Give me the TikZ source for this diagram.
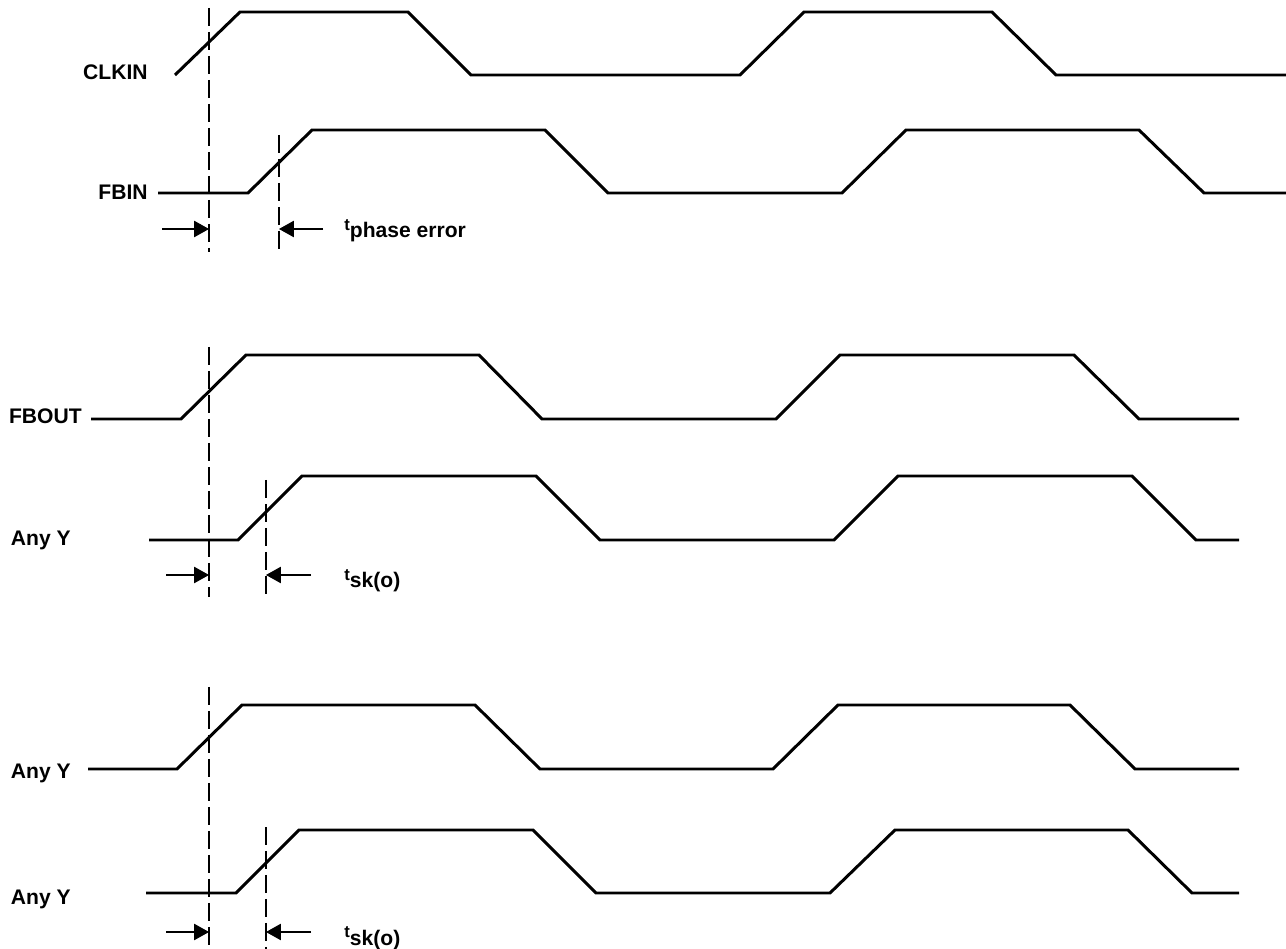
\documentclass[tikz,border=0pt]{standalone}
\usepackage{fontspec}
\setmainfont{Liberation Sans}
\usetikzlibrary{arrows.meta}

\begin{document}
\begin{tikzpicture}[
    x=0.02cm, y=-0.02cm,
    wave/.style={line width=1.7pt},
    guide/.style={line width=0.6pt, dash pattern=on 0.36cm off 0.12cm},
    dim/.style={line width=0.6pt, -{Triangle[length=0.3cm, width=0.33cm]}},
    sig/.style={anchor=base east, inner sep=0pt, font=\fontsize{12}{14}\selectfont\bfseries},
    tlabel/.style={anchor=base west, inner sep=0pt, font=\fontsize{12}{14}\selectfont\bfseries}
  ]
    \useasboundingbox (0,0) rectangle (1286,949);

    % Signal names
    \node[sig] at (148,80)  (clkin) {CLKIN};
    \node[sig] at (148,200) (fbin)  {FBIN};
    \node[sig] at (82,424)  (fbout) {FBOUT};
    \node[sig] at (71,546)  (anyya) {Any Y};
    \node[sig] at (71,779)  (anyyb) {Any Y};
    \node[sig] at (71,904)  (anyyc) {Any Y};

    % Waveforms
    \draw[wave] (175,75) -- (240,12) -- (408,12) -- (471,75) -- (740,75)
      -- (804,12) -- (992,12) -- (1056,75) -- (1286,75);
    \draw[wave] (158,193) -- (248,193) -- (312,130) -- (545,130) -- (608,193)
      -- (842,193) -- (906,130) -- (1139,130) -- (1204,193) -- (1286,193);
    \draw[wave] (91,419) -- (181,419) -- (246,355) -- (479,355) -- (542,419)
      -- (776,419) -- (840,355) -- (1074,355) -- (1139,419) -- (1239,419);
    \draw[wave] (149,540) -- (238,540) -- (302,476) -- (536,476) -- (600,540)
      -- (834,540) -- (898,476) -- (1132,476) -- (1196,540) -- (1239,540);
    \draw[wave] (88,769) -- (177,769) -- (242,705) -- (475,705) -- (540,769)
      -- (773,769) -- (838,705) -- (1070,705) -- (1135,769) -- (1239,769);
    \draw[wave] (146,893) -- (236,893) -- (299,830) -- (533,830) -- (596,893)
      -- (830,893) -- (895,830) -- (1128,830) -- (1192,893) -- (1239,893);

    % Reference lines
    \coordinate (ra top) at (209,8);   \coordinate (ra bot) at (209,252);
    \coordinate (pa top) at (279,135); \coordinate (pa bot) at (279,252);
    \coordinate (rb top) at (209,347); \coordinate (rb bot) at (209,597);
    \coordinate (pb top) at (266,480); \coordinate (pb bot) at (266,597);
    \coordinate (rc top) at (209,687); \coordinate (rc bot) at (209,949);
    \coordinate (pc top) at (266,827); \coordinate (pc bot) at (266,949);

    \draw[guide] (ra top) -- (ra bot);
    \draw[guide] (pa top) -- (pa bot);
    \draw[guide] (rb top) -- (rb bot);
    \draw[guide] (pb top) -- (pb bot);
    \draw[guide] (rc top) -- (rc bot);
    \draw[guide] (pc top) -- (pc bot);

    % Timing arrows
    \coordinate (pe left)  at (162,229); \coordinate (pe right)  at (323,229);
    \coordinate (ska left) at (166,575); \coordinate (ska right) at (311,575);
    \coordinate (skb left) at (166,932); \coordinate (skb right) at (311,932);

    \draw[dim] (pe left) -- (pe left -| ra top);
    \draw[dim] (pe right) -- (pe right -| pa top);
    \draw[dim] (ska left) -- (ska left -| rb top);
    \draw[dim] (ska right) -- (ska right -| pb top);
    \draw[dim] (skb left) -- (skb left -| rc top);
    \draw[dim] (skb right) -- (skb right -| pc top);

    % Timing labels
    \node[tlabel] at (344,238) (tphase) {\raisebox{4.5pt}{\fontsize{9.5}{11}\selectfont t}phase error};
    \node[tlabel] at (344,588) (tska)   {\raisebox{4.5pt}{\fontsize{9.5}{11}\selectfont t}sk(o)};
    \node[tlabel] at (344,945) (tskb)   {\raisebox{4.5pt}{\fontsize{9.5}{11}\selectfont t}sk(o)};

  \end{tikzpicture}
\end{document}
